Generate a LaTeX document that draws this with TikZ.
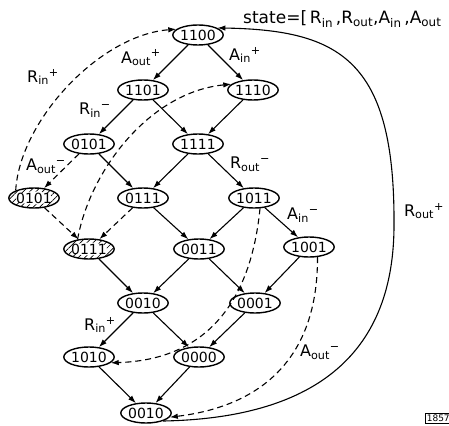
\documentclass[tikz,border=0pt]{standalone}
\usepackage{fontspec}
\setmainfont{DejaVu Sans}
\usetikzlibrary{arrows.meta,shapes.geometric,patterns.meta}
\begin{document}
\begin{tikzpicture}[x=1pt,y=-1pt,
  st/.style={ellipse,draw,line width=1.4pt,minimum width=48pt,minimum height=20pt,inner sep=0pt,font=\fontsize{14}{14}\selectfont},
  hatch/.style={path picture={\fill[pattern={Lines[angle=45,distance=4.5pt,line width=0.7pt]}] (path picture bounding box.south west) rectangle (path picture bounding box.north east); \fill[white] (path picture bounding box.center) ellipse [x radius=18pt, y radius=6.5pt];}},
  tr/.style={line width=1.1pt,-{Latex[length=8pt,width=5.5pt]}},
  dtr/.style={tr,dash pattern=on 6pt off 4pt},
  lbl/.style={font=\fontsize{16}{16}\selectfont,inner sep=0pt}
]
\useasboundingbox (0,0) rectangle (449,425);
\clip (0,0) rectangle (449,425);
% states
\node[st] (n1100) at (198,35) {1100};
\node[st] (n1101) at (143,90) {1101};
\node[st] (n1110) at (253,90) {1110};
\node[st] (n0101) at (89,144) {0101};
\node[st] (n1111) at (198,144) {1111};
\node[st,hatch] (h0101) at (34,198) {0101};
\node[st] (n0111) at (143,198) {0111};
\node[st] (n1011) at (254,198) {1011};
\node[st,hatch] (h0111) at (89,249) {0111};
\node[st] (n0011) at (199,249) {0011};
\node[st] (n1001) at (309,247) {1001};
\node[st] (n0010) at (143,303) {0010};
\node[st] (n0001) at (255,303) {0001};
\node[st] (n1010) at (89,357) {1010};
\node[st] (n0000) at (199,357) {0000};
\node[st] (b0010) at (146,413) {0010};
% labels
\node[lbl] (lAoutp) at (141,58) {A\textsubscript{out}\textsuperscript{+}};
\node[lbl] (lAinp) at (245,55) {A\textsubscript{in}\textsuperscript{+}};
\node[lbl] (lRinpa) at (43,77) {R\textsubscript{in}\textsuperscript{+}};
\node[lbl] (lRinm) at (95,110) {R\textsubscript{in}\textsuperscript{−}};
\node[lbl] (lAoutma) at (46,166) {A\textsubscript{out}\textsuperscript{−}};
\node[lbl] (lRoutm) at (250,164) {R\textsubscript{out}\textsuperscript{−}};
\node[lbl] (lAinm) at (303,215) {A\textsubscript{in}\textsuperscript{−}};
\node[lbl] (lRoutp) at (424,211) {R\textsubscript{out}\textsuperscript{+}};
\node[lbl] (lAoutmb) at (320,352) {A\textsubscript{out}\textsuperscript{−}};
\node[lbl] (lRinpb) at (100,325) {R\textsubscript{in}\textsuperscript{+}};
\node[lbl,anchor=west,font=\fontsize{17}{17}\selectfont] (lstate) at (243,19) {state=[\,R\textsubscript{in}\,,R\textsubscript{out},A\textsubscript{in}\,,A\textsubscript{out}};
\node[draw,line width=0.6pt,anchor=west,inner sep=1.5pt,font=\fontsize{9}{9}\selectfont] (tag) at (425,418) {1857};
% solid transitions
\draw[tr] (n1100) -- (n1101);
\draw[tr] (n1100) -- (n1110);
\draw[tr] (n1101) -- (n0101);
\draw[tr] (n1101) -- (n1111);
\draw[tr] (n1110) -- (n1111);
\draw[tr] (n0101) -- (n0111);
\draw[tr] (n1111) -- (n0111);
\draw[tr] (n1111) -- (n1011);
\draw[tr] (n0111) -- (n0011);
\draw[tr] (n1011) -- (n0011);
\draw[tr] (n1011) -- (n1001);
\draw[tr] (h0111) -- (n0010);
\draw[tr] (n0011) -- (n0010);
\draw[tr] (n0011) -- (n0001);
\draw[tr] (n1001) -- (n0001);
\draw[tr] (n0010) -- (n1010);
\draw[tr] (n0010) -- (n0000);
\draw[tr] (n0001) -- (n0000);
\draw[tr] (n1010) -- (b0010);
\draw[tr] (n0000) -- (b0010);
% dashed transitions
\draw[dtr] (n0101) -- (h0101);
\draw[dtr] (h0101) -- (h0111);
\draw[dtr] (n0111) -- (h0111);
\draw[dtr] (h0101.north west) .. controls (20,120) and (100,35) .. (n1100.165);
\draw[dtr] (h0111.140) .. controls (90,170) and (150,92) .. (n1110.165);
\draw[dtr] (n1011.-60) .. controls (250,310) and (200,360) .. (n1010.-15);
\draw[dtr] (n1001.-50) .. controls (318,350) and (270,405) .. (b0010.-10);
% big solid arc
\draw[tr] (b0010.-25) .. controls (320,418) and (394,350) .. (394,225) .. controls (395,60) and (340,30) .. (n1100.20);
\end{tikzpicture}
\end{document}
